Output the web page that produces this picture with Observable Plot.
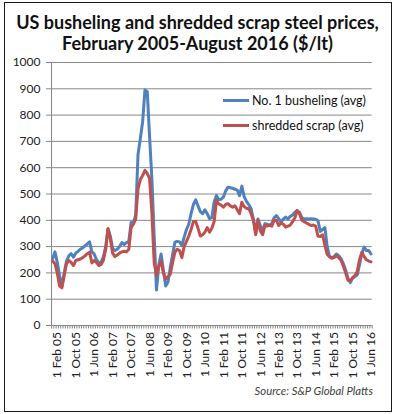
<!DOCTYPE html>
<html><head><meta charset="utf-8">
<script src="https://cdn.jsdelivr.net/npm/d3@7"></script>
<script src="https://cdn.jsdelivr.net/npm/@observablehq/plot@0.6"></script>
<style>
body{margin:0;background:#fff;}
#wrap{position:relative;width:395px;height:414px;overflow:hidden;font-family:Lato,sans-serif;background:#fff;}
#wrap svg{position:absolute;left:0;top:0;}
#border{position:absolute;left:4px;top:2px;width:386px;height:408px;border:1.5px solid #1a1a1a;pointer-events:none;}
#title{position:absolute;left:0;top:11.6px;width:395px;text-align:center;font-weight:bold;font-size:18px;line-height:21.5px;color:#111;}
.leg{position:absolute;left:223px;height:16px;display:flex;align-items:center;font-size:12.5px;color:#111;white-space:nowrap;}
.sw{display:inline-block;width:26px;height:3px;margin-right:3px;}
#source{position:absolute;right:22px;top:384px;font-style:italic;font-size:11.3px;color:#404040;}
</style></head>
<body>
<div id="wrap">
<div id="title">US busheling and shredded scrap steel prices,<br>February 2005-August 2016 ($/lt)</div>
<div id="source">Source: S&amp;P Global Platts</div>
<div id="border"></div>
</div>
<script>
// Monthly averages, Feb 2005 (index 0) to Aug 2016 (index 138), $/lt
const busheling = [
 255,280,240,190,150,200,245,265,273,260,275,282,290,295,303,310,318,280,272,250,
 238,240,262,300,368,340,292,285,290,300,315,308,315,320,392,390,420,650,710,775,
 895,890,720,560,340,135,230,272,209,150,165,222,270,317,320,318,304,336,365,385,
 425,460,478,455,433,425,440,425,406,410,470,494,478,480,488,512,526,524,522,518,
 515,494,530,490,472,460,445,405,355,405,380,360,387,385,380,388,410,418,406,393,
 405,412,405,415,420,431,437,430,410,405,406,405,406,405,404,398,358,365,372,300,
 262,258,262,272,265,254,235,210,180,163,180,186,192,230,275,298,285,285,272
];
const shredded = [
 245,235,200,150,143,190,235,247,240,228,247,250,253,258,265,273,279,238,247,240,
 228,232,248,290,368,330,275,262,268,275,280,282,280,290,372,385,405,520,555,570,
 590,578,560,430,240,190,225,245,200,178,185,196,240,279,290,285,258,300,320,340,
 365,395,395,370,340,345,355,372,355,370,395,475,462,458,450,460,463,455,450,455,
 440,425,469,452,446,444,425,400,345,400,360,345,380,378,382,378,400,400,380,390,
 385,374,378,382,395,410,437,425,400,395,390,385,380,382,378,340,338,345,305,270,
 262,256,258,266,258,248,225,200,172,170,182,190,205,250,278,262,250,245,242
];
const tickMonths = [0,8,16,24,32,40,48,56,64,72,80,88,96,104,112,120,128,136];
const tickLabels = ["1 Feb 05","1 Oct 05","1 Jun 06","1 Feb 07","1 Oct 07","1 Jun 08","1 Feb 09","1 Oct 09","1 Jun 10","1 Feb 11","1 Oct 11","1 Jun 12","1 Feb 13","1 Oct 13","1 Jun 14","1 Feb 15","1 Oct 15","1 Jun 16"];
const yTicks = [0,100,200,300,400,500,600,700,800,900,1000];
const seriesNames = ["No. 1 busheling (avg)","shredded scrap (avg)"];
const seriesColors = ["#4F81BD","#C0504D"];

const xDomain = [-0.5, busheling.length - 0.5];
const boundaries = d3.range(busheling.length + 1).map(k => k - 0.5);
const data = busheling.map((b, i) => ({i, b, s: shredded[i]}));

const chart = Plot.plot({
  width: 395, height: 414,
  marginLeft: 51, marginRight: 23.3, marginTop: 62, marginBottom: 89,
  x: {domain: xDomain, label: null},
  y: {domain: [0, 1000], label: null},
  style: {fontFamily: "Lato, sans-serif", fontSize: "12px", background: "transparent", overflow: "visible"},
  marks: [
    Plot.gridY(yTicks, {stroke: "#868686", strokeOpacity: 1}),
    Plot.ruleX([xDomain[0]], {stroke: "#868686"}),
    Plot.axisY(yTicks, {tickSize: 5, tickPadding: 6, stroke: "#868686", fill: "#222", label: null, tickFormat: d => String(d)}),
    Plot.axisX(boundaries, {tickSize: 3.5, stroke: "#868686", fill: "none", label: null, tickFormat: () => ""}),
    Plot.axisX(tickMonths, {tickSize: 0, tickRotate: -90, tickPadding: 6.5, dx: 5, fill: "#222", label: null,
      tickFormat: d => tickLabels[tickMonths.indexOf(d)]}),
    Plot.line(data, {x: "i", y: "b", stroke: seriesColors[0], strokeWidth: 3, strokeLinejoin: "round"}),
    Plot.line(data, {x: "i", y: "s", stroke: seriesColors[1], strokeWidth: 3, strokeLinejoin: "round"})
  ]
});
const wrap = document.getElementById("wrap");
wrap.insertBefore(chart, wrap.firstChild);

[100.7, 125.7].forEach((cy, k) => {
  const row = document.createElement("div");
  row.className = "leg";
  row.style.top = (cy - 8) + "px";
  const sw = document.createElement("span");
  sw.className = "sw";
  sw.style.background = seriesColors[k];
  row.appendChild(sw);
  row.appendChild(document.createTextNode(seriesNames[k]));
  wrap.appendChild(row);
});
</script>
</body></html>
